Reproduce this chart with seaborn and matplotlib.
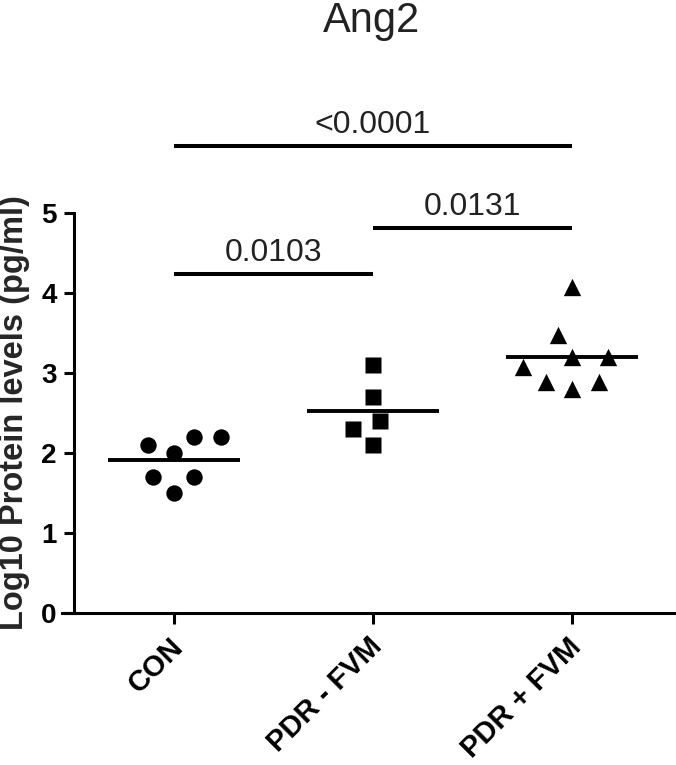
import pandas as pd
import matplotlib
matplotlib.use("Agg")
import matplotlib.pyplot as plt
import matplotlib.transforms as mtransforms
import seaborn as sns

# values (log10 pg/ml)
groups = ["CON", "PDR - FVM", "PDR + FVM"]
con = [2.2, 2.1, 2.0, 2.2, 1.7, 1.7, 1.5]
pdr_minus = [3.1, 2.7, 2.4, 2.3, 2.1]
pdr_plus = [4.08, 3.48, 3.2, 3.2, 3.08, 2.89, 2.89, 2.8]
markers = ["o", "s", "^"]
marker_sizes = [11.8, 11.5, 12.5]

# significance brackets: (group a, group b, p label)
comparisons = [(0, 1, "0.0103"), (1, 2, "0.0131"), (0, 2, "<0.0001")]
bracket_y = [4.24, 4.81, 5.84]

df = pd.DataFrame({
    "group": ["CON"] * len(con) + ["PDR - FVM"] * len(pdr_minus) + ["PDR + FVM"] * len(pdr_plus),
    "value": con + pdr_minus + pdr_plus,
})

sns.set_style("ticks")
plt.rcParams["font.family"] = ["Liberation Sans", "DejaVu Sans"]

fig = plt.figure(figsize=(6.76, 7.65), dpi=100)
ax = fig.add_axes([62 / 676, 152 / 765, 614 / 676, 400 / 765])

# scatter of each group with its own marker
for grp, mk, ms in zip(groups, markers, marker_sizes):
    sns.swarmplot(data=df[df["group"] == grp], x="group", y="value", order=groups,
                  marker=mk, size=ms, color="black", linewidth=6.5,
                  edgecolor=(0, 0, 0, 0), ax=ax)

# mean lines
sns.pointplot(data=df, x="group", y="value", order=groups, estimator="mean",
              errorbar=None, linestyle="none", marker="_", markersize=95,
              markeredgewidth=2.8, color="black", ax=ax)

ax.set_xlim(-0.56, 2.52)
ax.set_ylim(0, 5)
ax.set_yticks(range(6))
ax.spines["left"].set_position(("data", -0.5))
for side in ["top", "right"]:
    ax.spines[side].set_visible(False)
for side in ["left", "bottom"]:
    ax.spines[side].set_linewidth(2.2)
    ax.spines[side].set_color("black")

ax.tick_params(axis="y", length=7.5, width=2.2, pad=5, labelsize=20, colors="black")
ax.tick_params(axis="x", length=8, width=2.2, pad=6, labelsize=21, colors="black")
for lab in ax.get_yticklabels():
    lab.set_fontweight("bold")
ax.set_xticks(range(len(groups)))
ax.set_xticklabels(groups, rotation=45, ha="right", rotation_mode="anchor",
                   fontweight="bold")
shift = mtransforms.ScaledTranslation(-5 / 100, 0, fig.dpi_scale_trans)
for lab in ax.get_xticklabels():
    lab.set_transform(lab.get_transform() + shift)

ax.set_xlabel("")
ax.set_ylabel("Log10 Protein levels (pg/ml)", fontsize=23.5, fontweight="bold")
ax.yaxis.set_label_coords(-0.052, 0.5)

# significance brackets
for (a, b, label), y in zip(comparisons, bracket_y):
    ax.plot([a, b], [y, y], color="black", lw=2.9, clip_on=False, solid_capstyle="butt")
    ax.annotate(label, xy=((a + b) / 2, y), xytext=(0, 9.5), textcoords="offset points",
                ha="center", va="baseline", fontsize=23, color="#222222",
                annotation_clip=False)

fig.text(372 / 676, 1 - 32 / 765, "Ang2", ha="center", va="baseline", fontsize=30,
         color="#222222")

fig.savefig("out.png", dpi=100)
